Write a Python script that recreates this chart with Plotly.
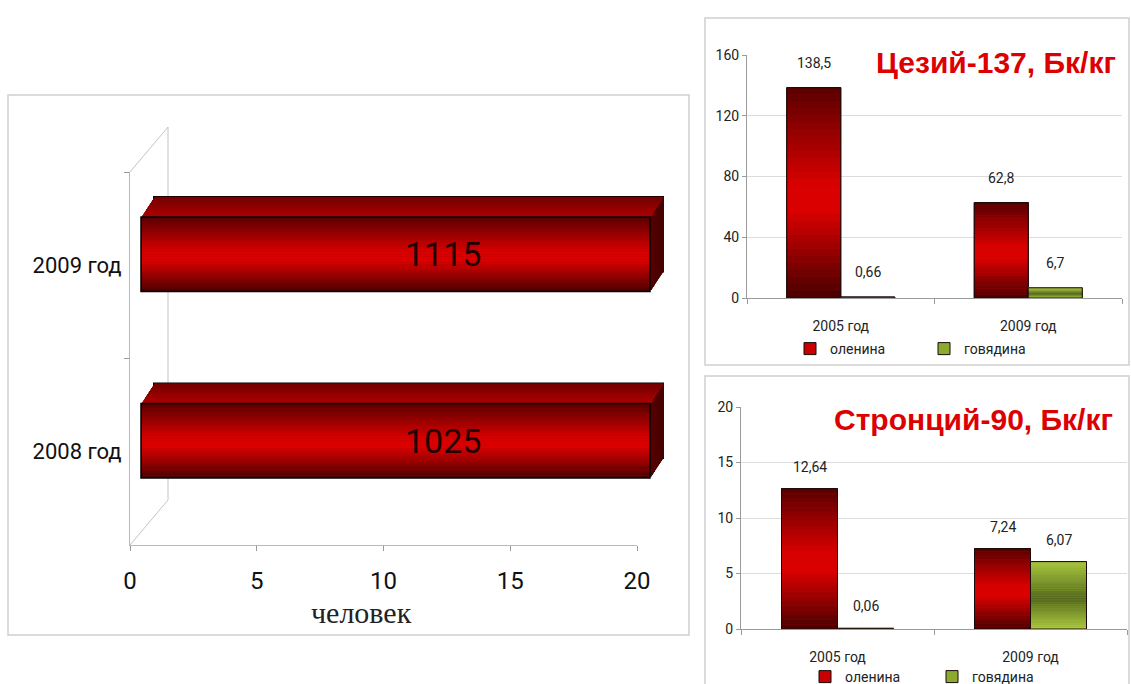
import numpy as np
import plotly.graph_objects as go

W, H = 1131, 684

# ---------------- data ----------------
people_years = ['2008 год', '2009 год']
people_counts = [1025, 1115]
people_ticks = [0, 5, 10, 15, 20]
people_axis_max = 20
people_axis_title = 'человек'

iso_years = ['2005 год', '2009 год']
series_names = ['оленина', 'говядина']
cs137_venison = [138.5, 62.8]
cs137_beef = [0.66, 6.7]
sr90_venison = [12.64, 7.24]
sr90_beef = [0.06, 6.07]
cs_title = 'Цезий-137, Бк/кг'
sr_title = 'Стронций-90, Бк/кг'


# ---------------- helpers ----------------
def px(x):
    return x / W


def py(y):
    return 1 - y / H


NARROW = "'Liberation Sans Narrow', 'Arial Narrow', Roboto, sans-serif"


def grad(stops, t):
    for (p0, c0), (p1, c1) in zip(stops[:-1], stops[1:]):
        if p0 <= t <= p1:
            f = (t - p0) / (p1 - p0) if p1 > p0 else 0
            c = [round(a + (b - a) * f) for a, b in zip(c0, c1)]
            return f'rgb({c[0]},{c[1]},{c[2]})'
    c = stops[-1][1]
    return f'rgb({c[0]},{c[1]},{c[2]})'


RED = [(0, (88, 0, 0)), (0.45, (214, 0, 0)), (0.58, (220, 0, 0)), (1, (72, 0, 0))]
GREEN = [(0, (170, 200, 62)), (0.55, (84, 104, 28)), (1, (174, 204, 64))]


def fmt(v):
    return f'{v:g}'.replace('.', ',')


fig = go.Figure()

# ---------------- left panel (3D-like horizontal bars) ----------------
fig.add_trace(go.Scatter(x=[0, 0], y=people_years, mode='markers', marker=dict(opacity=0),
                         xaxis='x', yaxis='y', showlegend=False, hoverinfo='skip'))

PPU = (650 - 141) / people_axis_max          # px per unit in bar plane
DX = 13 / PPU                                # total depth shift (x units)
R0, R1 = 3 / PPU, 2 / PPU
BW = 0.4
DY = 0.107                                   # total depth shift (y units)
K = 13
DXK, DYK = DX / K, DY / K
N = 30

yc = np.arange(len(people_years), dtype=float)
clipped = np.minimum(np.array(people_counts, dtype=float), people_axis_max)

# back outline
fig.add_trace(go.Bar(orientation='h', y=yc + DY, x=clipped, base=[DX] * len(yc), width=BW,
                     marker=dict(color='rgb(110,0,0)', line=dict(color='black', width=2)),
                     xaxis='x2', yaxis='y2', showlegend=False, hoverinfo='skip'))
# side face
sy, sx, sb, sc = [], [], [], []
for y0, xv in zip(yc, clipped):
    for k in range(1, K + 1):
        sy.append(y0 + k * DYK)
        sb.append(xv + (k - 1) * DXK)
        sx.append(DXK * 1.2)
        g = 88 - 18 * k / K
        sc.append(f'rgb({round(g)},0,0)')
fig.add_trace(go.Bar(orientation='h', y=sy, x=sx, base=sb, width=BW,
                     marker=dict(color=sc, line=dict(width=0)),
                     xaxis='x2', yaxis='y2', showlegend=False, hoverinfo='skip'))
# top face
ty, tx, tb, tc = [], [], [], []
for y0, xv in zip(yc, clipped):
    for k in range(1, K + 1):
        ty.append(y0 + BW / 2 + (k - 0.5) * DYK)
        tb.append(k * DXK)
        tx.append(xv)
        r = 178 - 60 * k / K
        tc.append(f'rgb({round(r)},0,0)')
fig.add_trace(go.Bar(orientation='h', y=ty, x=tx, base=tb, width=DYK * 1.2,
                     marker=dict(color=tc, line=dict(width=0)),
                     xaxis='x2', yaxis='y2', showlegend=False, hoverinfo='skip'))
# front face
fig.add_trace(go.Bar(orientation='h', y=yc, x=clipped, base=[0] * len(yc), width=BW,
                     marker=dict(color='rgb(170,0,0)', line=dict(width=0)),
                     xaxis='x2', yaxis='y2', showlegend=False, hoverinfo='skip'))
fy, fx, fc = [], [], []
for y0, xv in zip(yc, clipped):
    for j in range(N):
        fy.append(y0 - BW / 2 + (j + 0.5) * BW / N)
        fx.append(xv)
        fc.append(grad(RED, 1 - (j + 0.5) / N))
fig.add_trace(go.Bar(orientation='h', y=fy, x=fx, base=[0] * len(fy), width=BW / N * 1.05,
                     marker=dict(color=fc, line=dict(width=0)),
                     xaxis='x2', yaxis='y2', showlegend=False, hoverinfo='skip'))
fig.add_trace(go.Bar(orientation='h', y=yc, x=clipped, base=[0] * len(yc), width=BW,
                     marker=dict(color='rgba(0,0,0,0)', line=dict(color='black', width=1.5)),
                     xaxis='x2', yaxis='y2', showlegend=False, hoverinfo='skip'))


# ---------------- right panels ----------------
def add_group(xa, ya, legend, vals, name, stops, base_col, off, w):
    fig.add_trace(go.Bar(x=iso_years, y=vals, width=w, offset=off, name=name,
                         marker=dict(color=base_col, line=dict(color='#1a0a0a', width=1)),
                         xaxis=xa, yaxis=ya, legend=legend, showlegend=True, hoverinfo='skip'))
    xs, ys, bs, cs = [], [], [], []
    for c, v in zip(iso_years, vals):
        for j in range(N):
            xs.append(c)
            bs.append(v * j / N)
            ys.append(v / N * 1.02)
            cs.append(grad(stops, 1 - (j + 0.5) / N))
    fig.add_trace(go.Bar(x=xs, y=ys, base=bs, width=w, offset=off,
                         marker=dict(color=cs, line=dict(width=0)),
                         xaxis=xa, yaxis=ya, showlegend=False, hoverinfo='skip'))
    fig.add_trace(go.Bar(x=iso_years, y=vals, width=w, offset=off,
                         marker=dict(color='rgba(0,0,0,0)', line=dict(color='#1a0a0a', width=1)),
                         xaxis=xa, yaxis=ya, showlegend=False, hoverinfo='skip'))


W3 = 54 / 187.5
W4 = 56 / 193
add_group('x3', 'y3', 'legend2', cs137_venison, series_names[0], RED, 'rgb(200,0,0)', -W3, W3)
add_group('x3', 'y3', 'legend2', cs137_beef, series_names[1], GREEN, 'rgb(140,170,45)', 0, W3)
add_group('x4', 'y4', 'legend3', sr90_venison, series_names[0], RED, 'rgb(200,0,0)', -W4, W4)
add_group('x4', 'y4', 'legend3', sr90_beef, series_names[1], GREEN, 'rgb(140,170,45)', 0, W4)

annotations = []
for xa, ya, ven, beef, sh, ysh in [('x3', 'y3', cs137_venison, cs137_beef, 27, 25),
                                   ('x4', 'y4', sr90_venison, sr90_beef, 28, 22)]:
    for c, v in zip(iso_years, ven):
        annotations.append(dict(x=c, y=v, xref=xa, yref=ya, text=fmt(v), showarrow=False,
                                xanchor='center', yanchor='middle',
                                xshift=-sh, yshift=ysh, font=dict(family=NARROW, size=14, color='#222')))
    for c, v in zip(iso_years, beef):
        annotations.append(dict(x=c, y=v, xref=xa, yref=ya, text=fmt(v), showarrow=False,
                                xanchor='center', yanchor='middle',
                                xshift=sh, yshift=ysh, font=dict(family=NARROW, size=14, color='#222')))

for y0, v in zip(yc, people_counts):
    annotations.append(dict(x=11.85, y=y0, xref='x2', yref='y2', text=str(v), showarrow=False,
                            xanchor='center', yanchor='middle',
                            font=dict(family=NARROW, size=34, color='#200000')))

annotations += [
    dict(x=px(361), y=py(612), xref='paper', yref='paper', text=people_axis_title, showarrow=False,
         xanchor='center', yanchor='middle',
         font=dict(family="'Liberation Serif', 'Times New Roman', serif", size=30, color='#222')),
    dict(x=px(996), y=py(62), xref='paper', yref='paper', text=cs_title, showarrow=False,
         xanchor='center', yanchor='middle',
         font=dict(family="'Liberation Sans', Arial, sans-serif", size=30, color='#dd0000', weight='bold')),
    dict(x=px(973), y=py(419), xref='paper', yref='paper', text=sr_title, showarrow=False,
         xanchor='center', yanchor='middle',
         font=dict(family="'Liberation Sans', Arial, sans-serif", size=30, color='#dd0000', weight='bold')),
]

BORDER = '#cfcfcf'
WALL = '#c4c4c4'
shapes = [
    dict(type='rect', xref='paper', yref='paper', x0=px(8), x1=px(689), y0=py(635), y1=py(95),
         line=dict(color=BORDER, width=1.5), layer='below'),
    dict(type='rect', xref='paper', yref='paper', x0=px(705), x1=px(1129), y0=py(365), y1=py(18),
         line=dict(color=BORDER, width=1.5), layer='below'),
    dict(type='rect', xref='paper', yref='paper', x0=px(705), x1=px(1129), y0=py(700), y1=py(376),
         line=dict(color=BORDER, width=1.5), layer='below'),
    dict(type='line', xref='paper', yref='paper', x0=px(168), x1=px(168), y0=py(500), y1=py(127),
         line=dict(color=WALL, width=1), layer='below'),
    dict(type='line', xref='paper', yref='paper', x0=px(130), x1=px(168), y0=py(172), y1=py(127),
         line=dict(color=WALL, width=1), layer='below'),
    dict(type='line', xref='paper', yref='paper', x0=px(130), x1=px(168), y0=py(545), y1=py(500),
         line=dict(color=WALL, width=1), layer='below'),
]

AX = '#9a9a9a'
small_font = dict(family=NARROW, size=14, color='#222')
fig.update_layout(
    width=W, height=H, margin=dict(l=0, r=0, t=0, b=0, autoexpand=False),
    paper_bgcolor='white', plot_bgcolor='rgba(0,0,0,0)',
    barmode='overlay', hovermode=False,
    xaxis=dict(domain=[px(130), px(637)], range=[0, people_axis_max], tickvals=people_ticks,
               ticks='outside', ticklen=5, tickcolor=AX, showline=True, linecolor='#b8b8b8',
               showgrid=False, zeroline=False, anchor='y', ticklabelstandoff=9,
               tickfont=dict(family=NARROW, size=24, color='#111')),
    yaxis=dict(domain=[py(545), py(172)], type='category', categoryorder='array',
               categoryarray=people_years, range=[-0.5, 1.5], tickson='boundaries',
               ticks='outside', ticklen=5, tickcolor=AX, showline=True, linecolor='#b8b8b8',
               showgrid=False, zeroline=False, anchor='x', ticklabelstandoff=3,
               tickfont=dict(family=NARROW, size=22, color='#111')),
    xaxis2=dict(domain=[px(138), px(665)], range=[-R0, people_axis_max + DX + R1],
                visible=False, anchor='y2'),
    yaxis2=dict(domain=[py(534), py(161)], range=[-0.5, 1.5], visible=False, anchor='x2'),
    xaxis3=dict(domain=[px(747), px(1122)], type='category', range=[-0.5, 1.5], tickson='boundaries',
                ticks='outside', ticklen=5, tickcolor=AX, showline=True, linecolor=AX,
                showgrid=False, zeroline=False, anchor='y3', tickfont=small_font, ticklabelstandoff=15),
    yaxis3=dict(domain=[py(298), py(55)], range=[0, 160], dtick=40, ticks='outside', ticklen=4,
                tickcolor=AX, showline=True, linecolor=AX, showgrid=True, gridcolor='#dcdcdc',
                zeroline=False, anchor='x3', tickfont=small_font),
    xaxis4=dict(domain=[px(741), px(1127)], type='category', range=[-0.5, 1.5], tickson='boundaries',
                ticks='outside', ticklen=5, tickcolor=AX, showline=True, linecolor=AX,
                showgrid=False, zeroline=False, anchor='y4', tickfont=small_font, ticklabelstandoff=15),
    yaxis4=dict(domain=[py(629), py(407)], range=[0, 20], dtick=5, ticks='outside', ticklen=4,
                tickcolor=AX, showline=True, linecolor=AX, showgrid=True, gridcolor='#dcdcdc',
                zeroline=False, anchor='x4', tickfont=small_font),
    legend2=dict(x=px(790), y=py(349), xanchor='left', yanchor='middle', orientation='h',
                 font=small_font, bgcolor='rgba(0,0,0,0)', entrywidth=89, traceorder='normal'),
    legend3=dict(x=px(805), y=py(677), xanchor='left', yanchor='middle', orientation='h',
                 font=small_font, bgcolor='rgba(0,0,0,0)', entrywidth=82, traceorder='normal'),
    annotations=annotations, shapes=shapes,
)

fig.write_html('out.html')
